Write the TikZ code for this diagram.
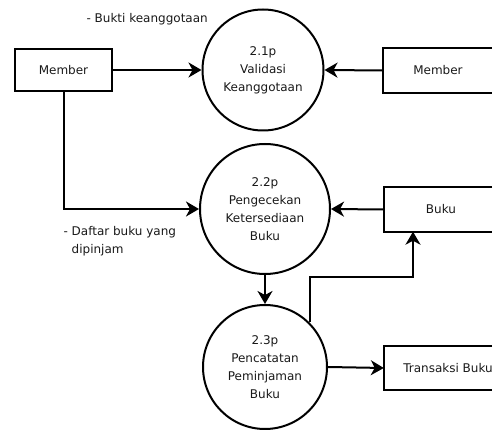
\documentclass[tikz,border=0pt]{standalone}
\usepackage{fontspec}
\setmainfont{DejaVu Sans}
\usetikzlibrary{arrows.meta,calc}
\begin{document}
\begin{tikzpicture}[x=1pt,y=-1pt,
  every node/.style={font=\fontsize{12}{18}\selectfont, text=black!90},
  proc/.style={circle, draw, line width=2pt, align=center, inner sep=0pt},
  ent/.style={rectangle, draw, line width=2pt, minimum width=97pt, minimum height=42pt},
  store/.style={rectangle, minimum width=108pt, minimum height=44pt, inner sep=0pt},
  storeline/.style={line width=2pt},
  flow/.style={line width=2pt, -{Stealth[length=13pt,width=15pt,inset=4pt]}},
  lbl/.style={anchor=west, align=left}
]
\useasboundingbox (0,0) rectangle (499,430);

\node[ent] (ml) at (63.5,70) {Member};
\node[proc, minimum size=121pt] (p21) at (263,70) {2.1p\\Validasi\\Keanggotaan};
\node[proc, minimum size=130pt] (p22) at (265,209) {2.2p\\Pengecekan\\Ketersediaan\\Buku};
\node[proc, minimum size=124pt] (p23) at (265,367) {2.3p\\Pencatatan\\Peminjaman\\Buku};

\node[store] (mr) at (437.5,70.5) {};
\node[anchor=center] at (438,70.5) {Member};
\node[store] (bk) at (438,209.5) {};
\node[anchor=center] at (441,209.5) {Buku};
\node[store] (tb) at (438,368) {};
\node[anchor=center] at (448,368) {Transaksi Buku};

\foreach \s in {mr,bk,tb}
  \draw[storeline] (\s.north east) -- (\s.north west) -- (\s.south west) -- (\s.south east);

\node[lbl] (l1) at (83,19) {- Bukti keanggotaan};
\node[lbl] (l2) at (60,241) {- Daftar buku yang\\\phantom{- }dipinjam};

\draw[flow] (ml.east) -- (p21.west);
\draw[flow] (mr.west) -- (p21.east);
\draw[flow] (ml.south) |- (p22.west);
\draw[flow] (bk.west) -- (p22.east);
\draw[flow] (p22.south) -- (p23.north);
\coordinate (bend) at (413,277);
\draw[flow] (p23.45) |- (bend) -- (bend |- bk.south);
\draw[flow] (p23.east) -- (tb.west);
\end{tikzpicture}
\end{document}
